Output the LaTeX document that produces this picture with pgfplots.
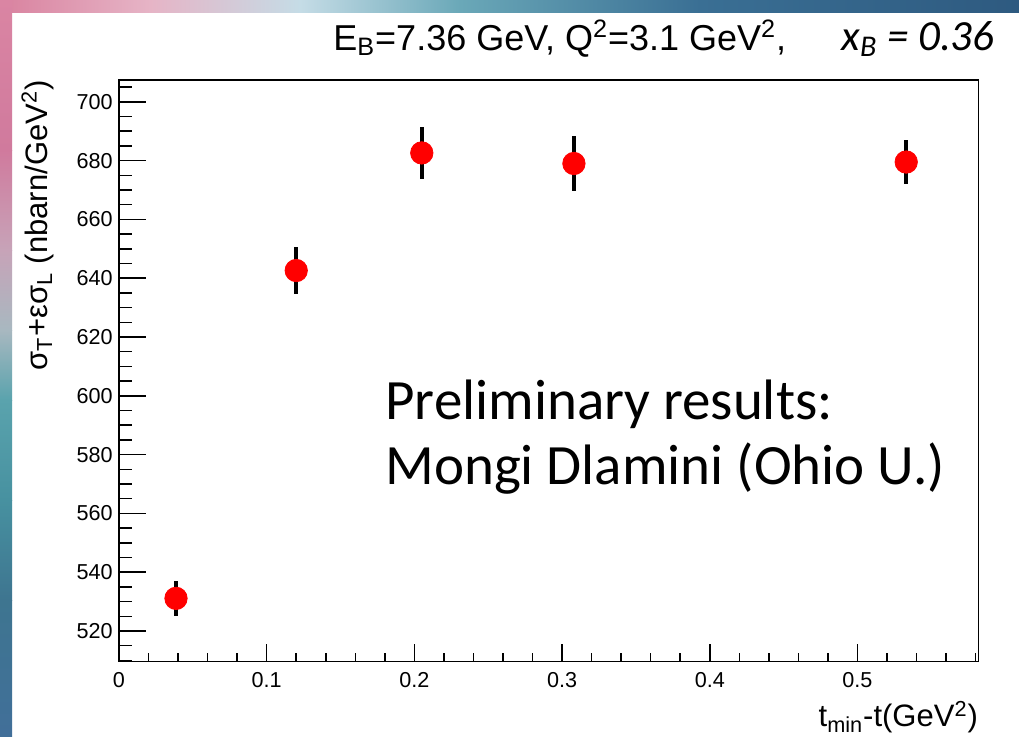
\documentclass[border=0pt]{standalone}
\usepackage{fontspec}
\setmainfont{Liberation Sans}
\newfontfamily\calibri{Carlito}
\usepackage{pgfplots}
\pgfplotsset{compat=1.18}
\usepackage{pgfplotstable}

\definecolor{tb0}{HTML}{D9829F}
\definecolor{tb1}{HTML}{E6B4C6}
\definecolor{tb2}{HTML}{C5DCE6}
\definecolor{tb3}{HTML}{6AA8B8}
\definecolor{tb4}{HTML}{3A6F94}
\definecolor{tb5}{HTML}{2E5A80}
\definecolor{lb0}{HTML}{DA85A3}
\definecolor{lb1}{HTML}{D07A9D}
\definecolor{lb2}{HTML}{C7A3B8}
\definecolor{lb3}{HTML}{A8B8C0}
\definecolor{lb4}{HTML}{5AA3AD}
\definecolor{lb5}{HTML}{4791A0}
\definecolor{lb6}{HTML}{3E7590}
\definecolor{lb7}{HTML}{416F99}

\pgfplotstableread{
x y ey
0.0386 531.1 6.0
0.1200 642.6 8.0
0.2050 682.6 8.7
0.3080 679.0 9.2
0.5330 679.5 7.5
}\datatable

\pgfplotsset{
  rootframe/.style={
    at={(59.5pt,37.15pt)}, anchor=south west,
    scale only axis, width=429.65pt, height=290.85pt,
    xmin=0, xmax=0.5818, ymin=509.56, ymax=707.4,
    axis line style={line width=0.75pt, black},
    tick align=inside, tick pos=left,
    tick style={line width=0.75pt, black},
    ticklabel style={font=\fontsize{10.8}{12}\selectfont},
    /pgf/number format/assume math mode=true,
  }
}

\begin{document}
\begin{tikzpicture}[x=0.5pt,y=0.5pt]
\useasboundingbox (0,0) rectangle (1019,736);
\fill[white] (0,0) rectangle (1019,736);
% slide background bands (y measured from bottom: 736 - pixel row)
\shade[left color=tb0,right color=tb1] (0,724) rectangle (150,736);
\shade[left color=tb1,right color=tb2] (150,724) rectangle (300,736);
\shade[left color=tb2,right color=tb3] (300,724) rectangle (460,736);
\shade[left color=tb3,right color=tb4] (460,724) rectangle (700,736);
\shade[left color=tb4,right color=tb5] (700,724) rectangle (1019,736);
\shade[top color=lb0,bottom color=lb1] (0,736) rectangle (12,586);
\shade[top color=lb1,bottom color=lb2] (0,586) rectangle (12,486);
\shade[top color=lb2,bottom color=lb3] (0,486) rectangle (12,406);
\shade[top color=lb3,bottom color=lb4] (0,406) rectangle (12,336);
\shade[top color=lb4,bottom color=lb5] (0,336) rectangle (12,236);
\shade[top color=lb5,bottom color=lb6] (0,236) rectangle (12,136);
\shade[top color=lb6,bottom color=lb7] (0,136) rectangle (12,0);

% y axis: long ticks
\begin{axis}[
  rootframe,
  hide x axis,
  major tick length=13.3pt, minor tick length=6.5pt,
  ytick={520,540,...,700},
  minor ytick={510,515,525,530,535,545,550,555,565,570,575,585,590,595,605,610,615,625,630,635,645,650,655,665,670,675,685,690,695,705},
  yticklabel style={inner sep=0pt, xshift=-3pt},
  ylabel={σ\textsubscript{T}+εσ\textsubscript{L} (nbarn/GeV\textsuperscript{2})},
  ylabel style={at={([xshift=-36pt]rel axis cs:0,1)}, anchor=base east, inner sep=0pt, font=\fontsize{15.5}{17}\selectfont},
]
\end{axis}

% x axis and data
\begin{axis}[
  rootframe,
  major tick length=8.7pt, minor tick length=4.2pt,
  ytick=\empty,
  xtick={0,0.1,0.2,0.3,0.4,0.5},
  minor xtick={0.02,0.04,0.06,0.08,0.12,0.14,0.16,0.18,0.22,0.24,0.26,0.28,0.32,0.34,0.36,0.38,0.42,0.44,0.46,0.48,0.52,0.54,0.56,0.58},
  xticklabel style={inner sep=0pt, yshift=-5pt},
  xlabel={t\textsubscript{min}-t(GeV\textsuperscript{2})},
  xlabel style={at={(rel axis cs:1,0)}, anchor=base east, inner sep=0pt, yshift=-32.6pt, font=\fontsize{15.5}{17}\selectfont},
]
\addplot[only marks, mark=*, mark size=5.6pt, mark options={fill=red, draw=red},
  error bars/.cd, y dir=both, y explicit, error mark=none,
  error bar style={line width=1.8pt, black}]
  table[x=x, y=y, y error=ey] {\datatable};
\end{axis}

\node[anchor=base west, inner sep=0pt, font=\fontsize{18}{20}\selectfont] at (333,686) {E\textsubscript{B}=7.36 GeV, Q\textsuperscript{2}=3.1 GeV\textsuperscript{2},};
\node[anchor=base east, inner sep=0pt, font=\calibri\itshape\fontsize{21.5}{24}\selectfont] at (995,686) {x\textsubscript{B} = 0.36};
\node[anchor=base west, inner sep=0pt, font=\calibri\fontsize{28.5}{30}\selectfont] at (385,317) {Preliminary results:};
\node[anchor=base west, inner sep=0pt, font=\calibri\fontsize{28.5}{30}\selectfont] at (385,252) {Mongi Dlamini (Ohio U.)};
\end{tikzpicture}
\end{document}
